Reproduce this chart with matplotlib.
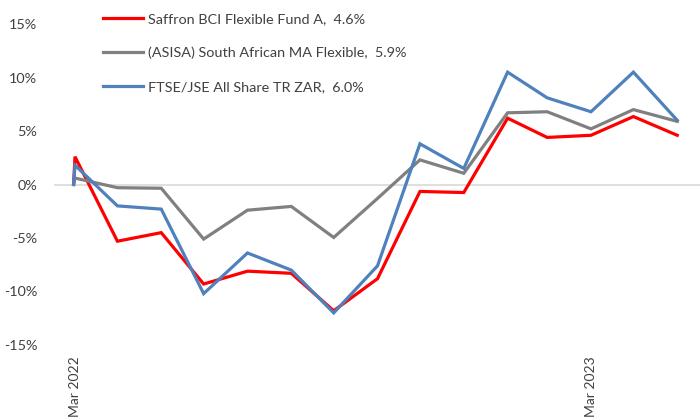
import matplotlib
matplotlib.use("Agg")
import matplotlib.pyplot as plt
import pandas as pd
import matplotlib.dates as mdates
from matplotlib.ticker import FuncFormatter

dates = ["2022-03-30", "2022-03-31", "2022-04-30", "2022-05-31", "2022-06-30", "2022-07-31",
         "2022-08-31", "2022-09-30", "2022-10-31", "2022-11-30", "2022-12-31",
         "2023-01-31", "2023-02-28", "2023-03-31", "2023-04-30", "2023-05-31"]
saffron = [0, 2.6, -5.3, -4.5, -9.3, -8.1, -8.3, -11.8, -8.8, -0.65, -0.75, 6.2, 4.4, 4.6, 6.35, 4.6]
asisa = [0, 0.6, -0.3, -0.35, -5.1, -2.4, -2.05, -4.95, -1.3, 2.3, 1.05, 6.7, 6.8, 5.2, 7.0, 5.9]
ftse = [0, 1.8, -2.0, -2.3, -10.2, -6.4, -8.0, -12.0, -7.6, 3.8, 1.5, 10.5, 8.1, 6.8, 10.5, 6.0]
labels = ["Saffron BCI Flexible Fund A,  4.6%",
          "(ASISA) South African MA Flexible,  5.9%",
          "FTSE/JSE All Share TR ZAR,  6.0%"]
colors = ["#FF0000", "#808080", "#4F81BD"]
tick_dates = ["2022-03-31", "2023-03-31"]
tick_labels = ["Mar 2022", "Mar 2023"]
yticks = [-15, -10, -5, 0, 5, 10, 15]

plt.rcParams['font.family'] = ['Lato', 'DejaVu Sans']

x = pd.to_datetime(dates)
fig = plt.figure(figsize=(7, 4.18), dpi=100)
ax = fig.add_axes([54/700, (418-345)/418, 1 - 54/700, (345-24)/418])

ax.axhline(0, color="#d9d9d9", lw=1.2, zorder=1)
for ser, lab, col in zip([saffron, asisa, ftse], labels, colors):
    ax.plot(x, ser, color=col, lw=2.3, label=lab, zorder=3, solid_joinstyle='miter')

x0 = mdates.date2num(pd.Timestamp("2022-03-31"))
per_px = (mdates.date2num(pd.Timestamp("2023-03-31")) - x0) / (591 - 75)
ax.set_xlim(x0 - per_px * (75 - 54), x0 + per_px * (700 - 75))
ax.set_ylim(-15, 15)
ax.set_yticks(yticks)
ax.yaxis.set_major_formatter(FuncFormatter(lambda v, p: f"{int(v)}%"))
ax.set_xticks(pd.to_datetime(tick_dates))
ax.set_xticklabels(tick_labels, rotation=90, va="top", ha="center")
ax.tick_params(axis="both", length=0, labelsize=10.4, colors="#404040")
ax.tick_params(axis="x", labelsize=10)
ax.tick_params(axis="y", pad=12)
ax.tick_params(axis="x", pad=8)
for s in ax.spines.values():
    s.set_visible(False)

leg = ax.legend(loc="upper left", bbox_to_anchor=(36/646, 1.075), frameon=False,
                fontsize=10.4, labelspacing=1.5, handlelength=2.8, handletextpad=0.3,
                labelcolor="#404040")

fig.savefig("out.png", dpi=100)
